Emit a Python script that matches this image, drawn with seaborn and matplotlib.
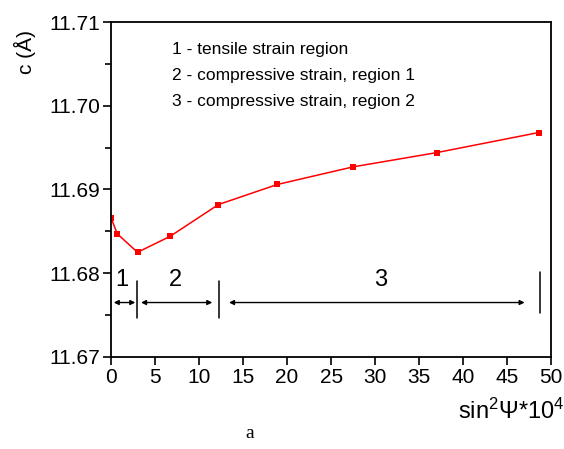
import seaborn as sns
import matplotlib.pyplot as plt
import pandas as pd

# data
sin2psi = [0.0, 0.7, 3.0, 6.7, 12.2, 18.9, 27.5, 37.0, 48.6]
c_param = [11.6866, 11.6847, 11.6825, 11.6844, 11.6882, 11.6906, 11.6927, 11.6944, 11.6968]
region_labels = ['1', '2', '3']
region_bounds = [2.95, 12.3, 48.75]
legend_lines = ['1 - tensile strain region',
                '2 - compressive strain, region 1',
                '3 - compressive strain, region 2']

df = pd.DataFrame({'x': sin2psi, 'c': c_param})

sns.set_style('ticks')
plt.rcParams['font.family'] = ['Liberation Sans', 'DejaVu Sans']
plt.rcParams['mathtext.fontset'] = 'custom'
plt.rcParams['mathtext.rm'] = 'Liberation Sans'
plt.rcParams['mathtext.it'] = 'Liberation Sans:italic'
plt.rcParams['text.color'] = 'black'
plt.rcParams['axes.labelcolor'] = 'black'
plt.rcParams['xtick.color'] = 'black'
plt.rcParams['ytick.color'] = 'black'

fig = plt.figure(figsize=(5.64, 4.49), dpi=100)
ax = fig.add_axes([0.197, 0.205, 0.78, 0.746])

sns.lineplot(data=df, x='x', y='c', ax=ax, color='#ff0000', marker='s',
             markersize=5, markeredgewidth=0, linewidth=1.1)

ax.set_xlim(0, 50)
ax.set_ylim(11.67, 11.71)
ax.set_xticks(range(0, 51, 5))
ax.set_yticks([11.67, 11.68, 11.69, 11.70, 11.71])
ax.set_yticks([11.675, 11.685, 11.695, 11.705], minor=True)
ax.set_yticklabels(['11.67', '11.68', '11.69', '11.70', '11.71'])
ax.tick_params(axis='both', which='major', direction='out', length=6, width=1.2,
               labelsize=15, color='black', labelcolor='black', pad=2)
ax.tick_params(axis='y', which='minor', direction='out', length=4, width=1.2, color='black')
for s in ax.spines.values():
    s.set_linewidth(1.3)
    s.set_color('black')

# regions
for b in region_bounds[:2]:
    ax.plot([b, b], [11.6747, 11.6791], color='black', lw=1.1)
ax.plot([region_bounds[2]] * 2, [11.6753, 11.6801], color='black', lw=1.1)

arrow_y = 11.6765
spans = [(0.3, 2.75), (3.4, 11.5), (13.4, 47.0)]
for (a, b) in spans:
    ax.annotate('', xy=(a, arrow_y), xytext=(b, arrow_y),
                arrowprops=dict(arrowstyle='<|-|>', color='black', lw=1.0,
                                mutation_scale=7, shrinkA=0, shrinkB=0))
label_x = [1.25, 7.3, 30.6]
for lab, lx in zip(region_labels, label_x):
    ax.text(lx, 11.6792, lab, fontsize=17, ha='center', va='center', color='black')

for i, line in enumerate(legend_lines):
    ax.text(6.9, 11.7067 - i * 0.0031, line, fontsize=12.5, va='center', ha='left',
            color='black')

ax.set_ylabel('c (Å)', fontsize=15, color='black')
ax.yaxis.set_label_coords(-0.17, 0.91)
ax.set_xlabel('sin$^2$Ψ*10$^4$', fontsize=17, ha='right', color='black')
ax.xaxis.set_label_coords(1.03, -0.125)

fig.text(0.443, 0.025, 'a', family='Liberation Serif', fontsize=14, ha='center',
         color='black')

fig.savefig('out.png', dpi=100)
